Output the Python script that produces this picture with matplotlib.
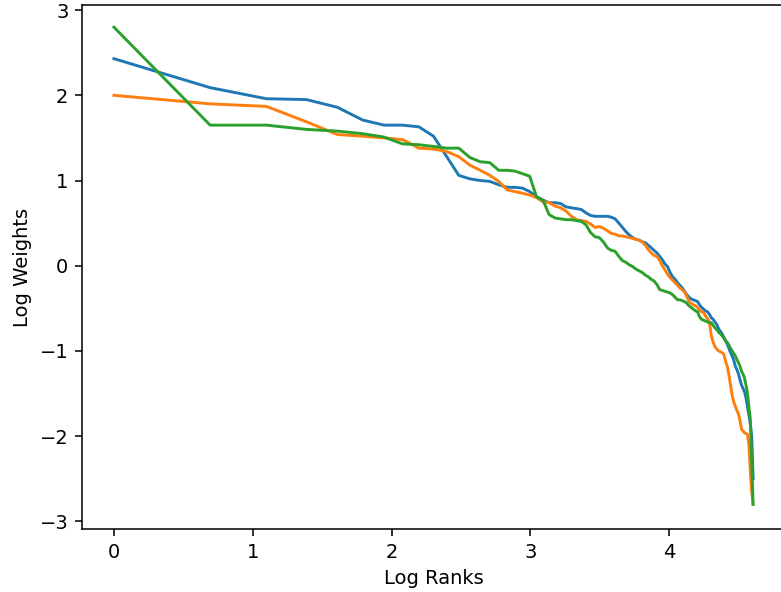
import numpy as np
import matplotlib
matplotlib.use("Agg")
import matplotlib.pyplot as plt

# ranks 1..100, weights already in log space
ranks = np.arange(1, 101)

log_w_blue = [
    2.43, 2.09, 1.96, 1.95, 1.86, 1.71, 1.65, 1.65, 1.63, 1.52,
    1.28, 1.06, 1.02, 1.00, 0.99, 0.95, 0.92, 0.92, 0.91, 0.87,
    0.81, 0.77, 0.74, 0.74, 0.73, 0.69, 0.68, 0.67, 0.66, 0.62,
    0.59, 0.58, 0.58, 0.58, 0.58, 0.57, 0.55, 0.50, 0.45, 0.40,
    0.36, 0.33, 0.31, 0.30, 0.28, 0.27, 0.24, 0.21, 0.18, 0.15,
    0.11, 0.07, 0.02, -0.01, -0.08, -0.13, -0.16, -0.20, -0.23, -0.26,
    -0.30, -0.34, -0.37, -0.39, -0.40, -0.41, -0.42, -0.46, -0.49, -0.51,
    -0.53, -0.54, -0.57, -0.61, -0.63, -0.66, -0.69, -0.74, -0.77, -0.80,
    -0.84, -0.88, -0.92, -0.97, -1.02, -1.06, -1.11, -1.18, -1.22, -1.27,
    -1.34, -1.40, -1.44, -1.48, -1.55, -1.65, -1.75, -1.85, -2.00, -2.50,
]

log_w_orange = [
    2.00, 1.90, 1.87, 1.69, 1.54, 1.52, 1.50, 1.48, 1.38, 1.37,
    1.34, 1.28, 1.18, 1.12, 1.06, 0.99, 0.89, 0.87, 0.85, 0.83,
    0.80, 0.75, 0.74, 0.70, 0.68, 0.64, 0.58, 0.54, 0.53, 0.52,
    0.49, 0.45, 0.46, 0.44, 0.41, 0.38, 0.37, 0.35, 0.35, 0.34,
    0.33, 0.32, 0.31, 0.30, 0.28, 0.24, 0.19, 0.15, 0.12, 0.11,
    0.06, 0.00, -0.05, -0.10, -0.14, -0.17, -0.20, -0.23, -0.26, -0.28,
    -0.31, -0.36, -0.42, -0.44, -0.46, -0.47, -0.49, -0.52, -0.54, -0.55,
    -0.59, -0.62, -0.66, -0.82, -0.90, -0.95, -0.98, -1.00, -1.01, -1.02,
    -1.04, -1.12, -1.18, -1.28, -1.40, -1.52, -1.60, -1.65, -1.70, -1.74,
    -1.82, -1.92, -1.94, -1.96, -1.97, -1.98, -2.10, -2.40, -2.65, -2.80,
]

log_w_green = [
    2.80, 1.65, 1.65, 1.60, 1.58, 1.55, 1.51, 1.43, 1.42, 1.40,
    1.38, 1.38, 1.27, 1.22, 1.21, 1.12, 1.12, 1.11, 1.08, 1.05,
    0.81, 0.77, 0.60, 0.56, 0.55, 0.54, 0.54, 0.53, 0.52, 0.48,
    0.39, 0.34, 0.33, 0.28, 0.21, 0.18, 0.17, 0.11, 0.06, 0.04,
    0.01, -0.01, -0.04, -0.06, -0.08, -0.11, -0.13, -0.16, -0.18, -0.22,
    -0.28, -0.29, -0.30, -0.31, -0.32, -0.34, -0.37, -0.40, -0.40, -0.41,
    -0.42, -0.44, -0.47, -0.49, -0.51, -0.53, -0.54, -0.60, -0.63, -0.64,
    -0.65, -0.66, -0.67, -0.67, -0.70, -0.73, -0.75, -0.78, -0.80, -0.82,
    -0.85, -0.88, -0.90, -0.93, -0.97, -1.00, -1.03, -1.06, -1.10, -1.14,
    -1.18, -1.24, -1.27, -1.32, -1.40, -1.49, -1.65, -1.80, -2.30, -2.80,
]

log_ranks = np.log(ranks)

dpi = 140
fig = plt.figure(figsize=(781 / dpi, 592 / dpi), dpi=dpi)
# axes runs past the right edge, as in the reference crop
ax = fig.add_axes([82 / 781, 63 / 592, 703 / 781, 524 / 592])

ax.plot(log_ranks, log_w_blue)
ax.plot(log_ranks, log_w_orange)
ax.plot(log_ranks, log_w_green)

ax.set_xlim(-0.23, 4.835)
ax.set_ylim(-3.09, 3.06)
ax.set_xlabel('Log Ranks')
ax.set_ylabel('Log Weights')

fig.savefig('out.png', dpi=dpi)
